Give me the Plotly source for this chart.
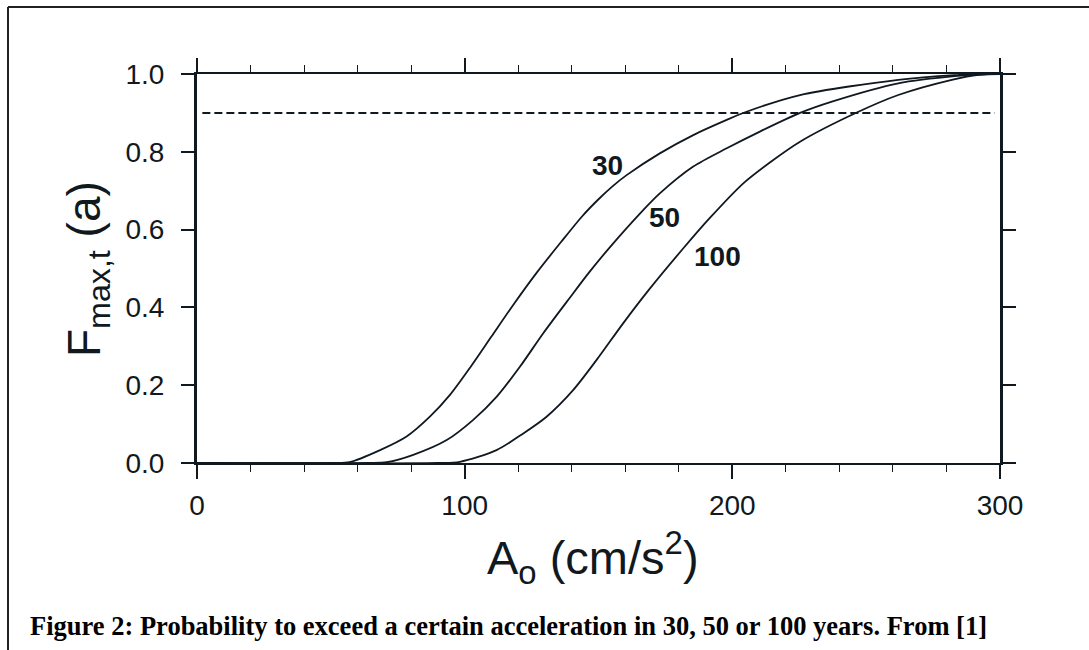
import plotly.graph_objects as go

# ---- data ----
x30 = [0, 50, 57, 68.4, 78.3, 87, 94.5, 102, 110, 118, 127, 136, 144, 150, 155, 160.5, 172.9, 185.4, 197.9, 205.3, 225.3, 262, 283, 295, 300]
y30 = [0, 0, 0.002, 0.033, 0.068, 0.119, 0.175, 0.245, 0.325, 0.405, 0.49, 0.568, 0.635, 0.678, 0.71, 0.74, 0.796, 0.843, 0.882, 0.903, 0.946, 0.985, 0.997, 1.0, 1.0]

x50 = [0, 64, 70.9, 80.8, 93.3, 103.2, 111.9, 120.7, 129.3, 139.3, 146.5, 154.3, 166.7, 172.9, 185.4, 197.9, 210.3, 225.3, 237.2, 262, 284, 296, 300]
y50 = [0, 0, 0.002, 0.021, 0.059, 0.111, 0.17, 0.248, 0.333, 0.425, 0.49, 0.555, 0.65, 0.693, 0.762, 0.809, 0.852, 0.9, 0.929, 0.976, 0.995, 1.0, 1.0]

x100 = [0, 90, 98.2, 111.9, 121.9, 130.6, 140.6, 149.3, 159.2, 168.8, 181.7, 191.6, 204.1, 215.3, 225.3, 245.9, 262, 282, 292, 300]
y100 = [0, 0, 0.003, 0.033, 0.076, 0.119, 0.188, 0.265, 0.359, 0.445, 0.552, 0.63, 0.719, 0.779, 0.826, 0.899, 0.946, 0.985, 0.998, 1.0]

ref_x = [2, 298]
ref_y = [0.9, 0.9]

curve_labels = ["30", "50", "100"]
label_x = [153.2, 174.8, 194.6]
label_y = [0.766, 0.630, 0.530]

x_ticks = [0, 100, 200, 300]
y_ticks = [0.0, 0.2, 0.4, 0.6, 0.8, 1.0]
y_ticklabels = ["0.0", "0.2", "0.4", "0.6", "0.8", "1.0"]

caption = "Figure 2: Probability to exceed a certain acceleration in 30, 50 or 100 years. From [1]"

# ---- figure ----
W, H = 1089, 650
L, R, T, B = 197, 89, 74, 187
pw, ph = W - L - R, H - T - B

def px(xp):
    return (xp - L) / pw

def py(yp):
    return (H - B - yp) / ph

ink = "#101820"
fig = go.Figure()
for xs, ys in [(x30, y30), (x50, y50), (x100, y100)]:
    fig.add_trace(go.Scatter(x=xs, y=ys, mode="lines",
                             line=dict(color=ink, width=1.8, shape="spline", smoothing=0.8),
                             showlegend=False, hoverinfo="skip"))
fig.add_trace(go.Scatter(x=ref_x, y=ref_y, mode="lines",
                         line=dict(color=ink, width=2, dash="8px,4px"),
                         showlegend=False, hoverinfo="skip"))

for t, xx, yy in zip(curve_labels, label_x, label_y):
    fig.add_annotation(x=xx, y=yy, text="<b>%s</b>" % t, showarrow=False,
                       xanchor="center", yanchor="middle",
                       font=dict(family="Liberation Sans, Arial", size=28, color=ink))

font_sans = "Liberation Sans, Arial, Helvetica"
fig.update_xaxes(range=[0, 300], tickvals=x_ticks, ticks="outside", ticklen=14, tickwidth=1.5,
                 tickcolor=ink, showline=True, linecolor=ink, linewidth=2, mirror="allticks",
                 showgrid=False, zeroline=False,
                 tickfont=dict(family=font_sans, size=28, color=ink), ticklabelstandoff=2,
                 minor=dict(dtick=20, ticks="outside", ticklen=7, tickwidth=1.2, tickcolor=ink, showgrid=False))
fig.update_yaxes(range=[0, 1], tickvals=y_ticks, ticktext=y_ticklabels, ticks="outside", ticklen=13, tickwidth=1.5,
                 tickcolor=ink, showline=True, linecolor=ink, linewidth=3, mirror="allticks",
                 showgrid=False, zeroline=False,
                 tickfont=dict(family=font_sans, size=28, color=ink), ticklabelstandoff=11)

# axis titles
fig.add_annotation(xref="paper", yref="paper", x=px(593), y=py(557), xanchor="center", yanchor="middle",
                   text="A<sub>o</sub> (cm/s<sup>2</sup>)", showarrow=False,
                   font=dict(family=font_sans, size=47, color=ink))
fig.add_annotation(xref="paper", yref="paper", x=px(87), y=py(269), xanchor="center", yanchor="middle",
                   textangle=-90, text="F<sub>max,t</sub> (a)", showarrow=False,
                   font=dict(family=font_sans, size=46, color=ink))

# caption
fig.add_annotation(xref="paper", yref="paper", x=px(28), y=py(626), xanchor="left", yanchor="middle",
                   text="<b>%s</b>" % caption, showarrow=False,
                   font=dict(family="Liberation Serif, Times New Roman", size=26.5, color="#000"))

# outer frame (left and top edges visible)
fig.add_shape(type="line", xref="paper", yref="paper", x0=px(8), x1=px(8), y0=py(660), y1=py(7),
              line=dict(color="#222", width=2))
fig.add_shape(type="line", xref="paper", yref="paper", x0=px(8), x1=px(1100), y0=py(7), y1=py(7),
              line=dict(color="#222", width=2))

fig.update_layout(width=W, height=H, margin=dict(l=L, r=R, t=T, b=B),
                  plot_bgcolor="white", paper_bgcolor="white")
fig.write_html("out.html", config={"displayModeBar": False},
               post_script="document.body.style.margin='0px';document.body.style.overflow='hidden';")
